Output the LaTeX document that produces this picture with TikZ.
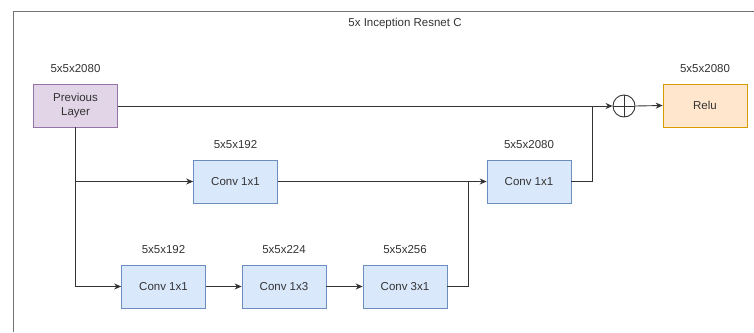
\documentclass[tikz,border=0pt]{standalone}
\usepackage{fontspec}
\setmainfont{Liberation Sans}
\usetikzlibrary{arrows.meta}
\definecolor{convfill}{HTML}{DAE8FC}
\definecolor{convline}{HTML}{6C8EBF}
\definecolor{prevfill}{HTML}{E1D5E7}
\definecolor{prevline}{HTML}{9673A6}
\definecolor{relufill}{HTML}{FFE6CC}
\definecolor{reluline}{HTML}{D79B00}
\definecolor{txt}{HTML}{333333}
\tikzset{
  layer/.style={draw=convline,fill=convfill,minimum width=84pt,minimum height=43pt,
    inner sep=1pt,align=center,text=txt,font=\fontsize{11.5}{14}\selectfont,line width=0.7pt},
  dim/.style={text=txt,font=\fontsize{11.5}{14}\selectfont},
  flow/.style={-{Stealth[length=7pt,width=6pt]},line width=0.9pt,draw=black!80},
  wire/.style={line width=0.9pt,draw=black!80}
}
\begin{document}
\begin{tikzpicture}[x=1pt,y=-1pt]
   \useasboundingbox (0,0) rectangle (754,332);
   % frame
   \draw[line width=1pt,color=black!55] (13,332) -- (13,11) -- (754,11);
   \node[dim] (title) at (405,23.5) {5x Inception Resnet C};
   % layers
   \node[layer,draw=prevline,fill=prevfill] (prev) at (75.5,105.5) {Previous\\Layer};
   \node[layer,draw=reluline,fill=relufill] (relu) at (705,105.5) {Relu};
   \node[layer] (convA) at (235.5,181.5) {Conv 1x1};
   \node[layer] (convB) at (529,181.5) {Conv 1x1};
   \node[layer] (convC) at (163.5,286.5) {Conv 1x1};
   \node[layer] (convD) at (284,286.5) {Conv 1x3};
   \node[layer] (convE) at (405,286.5) {Conv 3x1};
   \node[draw=black!80,line width=0.9pt,circle,minimum size=22pt,inner sep=0pt] (plus) at (624,106) {};
   \draw[line width=0.9pt,color=black!80] (plus.north) -- (plus.south) (plus.west) -- (plus.east);
   % shapes
   \node[dim,above=8pt] at (prev.north) {5x5x2080};
   \node[dim,above=8pt] at (relu.north) {5x5x2080};
   \node[dim,above=8pt] at (convA.north) {5x5x192};
   \node[dim,above=8pt] at (convB.north) {5x5x2080};
   \node[dim,above=8pt] at (convC.north) {5x5x192};
   \node[dim,above=8pt] at (convD.north) {5x5x224};
   \node[dim,above=8pt] at (convE.north) {5x5x256};
   % connectors
   \coordinate (split) at (prev.south |- convA.west);
   \coordinate (joinB) at (468,181.5);
   \coordinate (joinP) at (592,106);
   \draw[flow] (prev.east |- plus.west) -- (plus.west);
   \draw[flow] (prev.south) -- (prev.south |- convC.west) -- (convC.west);
   \draw[flow] (split) -- (convA.west);
   \draw[flow] (convA.east) -- (convB.west);
   \draw[flow] (convC.east) -- (convD.west);
   \draw[flow] (convD.east) -- (convE.west);
   \draw[wire] (convE.east) -| (joinB);
   \draw[wire] (convB.east) -| (joinP);
   \draw[flow] (plus.east) -- (relu.west);
 \end{tikzpicture}
\end{document}
